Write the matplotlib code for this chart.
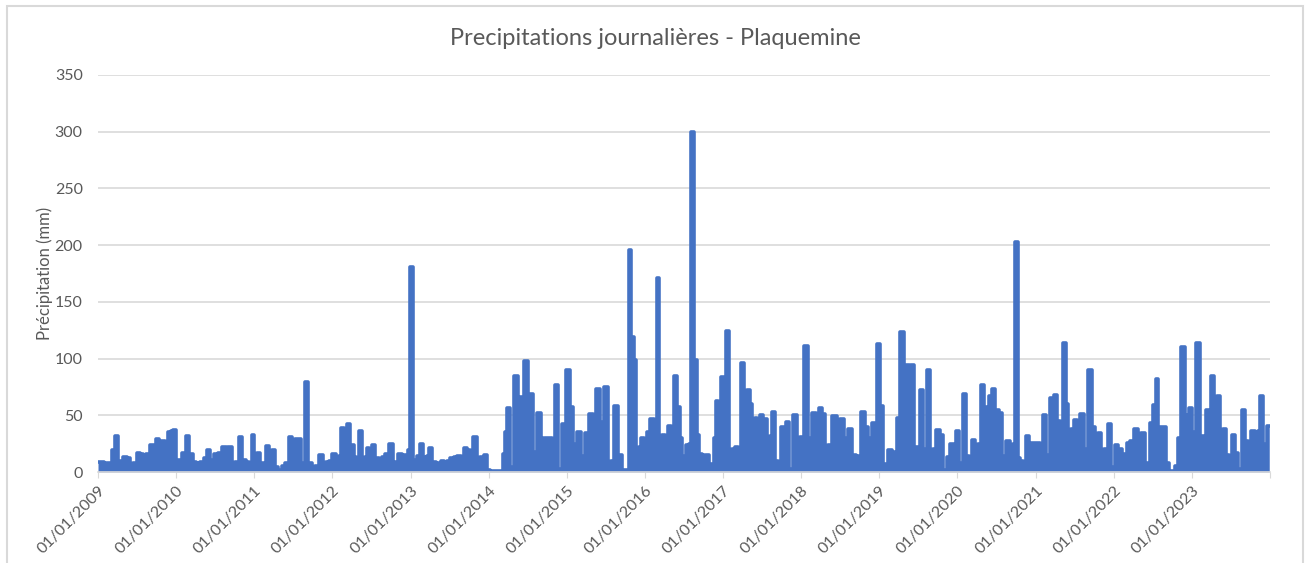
import numpy as np
import matplotlib.pyplot as plt
from matplotlib.patches import Rectangle

# Dates (annee decimale) et precipitations journalieres (mm)
t_2009_2013 = [
    2009.00, 2009.05, 2009.11, 2009.15, 2009.20, 2009.23, 2009.27, 2009.30, 2009.35, 2009.38,
    2009.43, 2009.47, 2009.52, 2009.56, 2009.60, 2009.64, 2009.68, 2009.72, 2009.76, 2009.80,
    2009.84, 2009.87, 2009.91, 2009.95, 2009.98, 2010.02, 2010.06, 2010.10, 2010.15, 2010.19,
    2010.23, 2010.28, 2010.33, 2010.38, 2010.41, 2010.46, 2010.51, 2010.56, 2010.62, 2010.65,
    2010.69, 2010.73, 2010.78, 2010.83, 2010.86, 2010.92, 2010.95, 2010.98, 2011.02, 2011.05,
    2011.10, 2011.14, 2011.17, 2011.21, 2011.24, 2011.29, 2011.33, 2011.37, 2011.42, 2011.47,
    2011.50, 2011.54, 2011.58, 2011.61, 2011.64, 2011.67, 2011.71, 2011.76, 2011.80, 2011.85,
    2011.90, 2011.93, 2011.98, 2012.02, 2012.06, 2012.10, 2012.13, 2012.16, 2012.21, 2012.25,
    2012.29, 2012.32, 2012.35, 2012.40, 2012.43, 2012.45, 2012.49, 2012.52, 2012.57, 2012.61,
    2012.65, 2012.70, 2012.75, 2012.79, 2012.82, 2012.87, 2012.91, 2012.95, 2012.98, 2013.01,
    2013.06, 2013.10, 2013.14, 2013.19, 2013.22, 2013.26, 2013.30, 2013.34, 2013.38, 2013.41,
    2013.45, 2013.49, 2013.53, 2013.58, 2013.62, 2013.66, 2013.70, 2013.74, 2013.78, 2013.83,
    2013.87, 2013.90, 2013.93, 2013.96, 2013.99, 2014.05, 2014.10, 2014.15,
]
p_2009_2013 = [
    9, 9, 8, 8, 19, 32, 10, 10, 13, 12,
    7, 8, 17, 16, 15, 16, 24, 24, 29, 27,
    27, 21, 35, 36, 37, 11, 11, 17, 32, 16,
    9, 8, 9, 12, 19, 11, 16, 17, 22, 13,
    22, 8, 9, 31, 11, 9, 7, 33, 10, 17,
    8, 7, 23, 8, 19, 4, 2, 5, 8, 31,
    20, 29, 29, 8, 8, 79, 8, 4, 5, 15,
    7, 9, 10, 16, 12, 14, 39, 24, 42, 24,
    13, 8, 36, 8, 13, 21, 7, 24, 12, 11,
    13, 16, 25, 8, 9, 16, 15, 15, 19, 181,
    11, 14, 25, 13, 14, 21, 9, 8, 7, 10,
    9, 10, 12, 13, 14, 12, 21, 19, 8, 31,
    9, 13, 12, 15, 2, 1, 1, 1,
]

t_2014_2018 = [
    2014.17, 2014.19, 2014.22, 2014.25, 2014.29, 2014.35, 2014.39, 2014.42, 2014.48, 2014.52,
    2014.55, 2014.59, 2014.65, 2014.68, 2014.71, 2014.74, 2014.79, 2014.83, 2014.87, 2014.91,
    2014.96, 2015.01, 2015.06, 2015.11, 2015.16, 2015.21, 2015.25, 2015.31, 2015.35, 2015.40,
    2015.45, 2015.50, 2015.55, 2015.58, 2015.63, 2015.68, 2015.72, 2015.77, 2015.81, 2015.84,
    2015.87, 2015.91, 2015.94, 2015.97, 2016.01, 2016.05, 2016.09, 2016.13, 2016.17, 2016.20,
    2016.24, 2016.28, 2016.32, 2016.35, 2016.39, 2016.43, 2016.46, 2016.50, 2016.54, 2016.58,
    2016.60, 2016.65, 2016.67, 2016.71, 2016.75, 2016.77, 2016.80, 2016.84, 2016.88, 2016.90,
    2016.92, 2016.96, 2016.99, 2017.02, 2017.05, 2017.09, 2017.13, 2017.17, 2017.21, 2017.25,
    2017.29, 2017.32, 2017.36, 2017.39, 2017.42, 2017.45, 2017.49, 2017.54, 2017.58, 2017.61,
    2017.65, 2017.69, 2017.72, 2017.77, 2017.83, 2017.87, 2017.92, 2017.96, 2018.01, 2018.07,
    2018.11, 2018.16, 2018.21, 2018.25, 2018.28, 2018.32, 2018.37, 2018.43, 2018.48, 2018.52,
    2018.58, 2018.63, 2018.67, 2018.73, 2018.79, 2018.84, 2018.88, 2018.94, 2018.99,
]
p_2014_2018 = [
    1, 16, 35, 56, 4, 85, 58, 66, 98, 69,
    69, 18, 52, 30, 12, 30, 30, 4, 77, 3,
    42, 90, 57, 25, 35, 14, 34, 51, 14, 73,
    44, 75, 8, 10, 58, 15, 2, 2, 196, 119,
    99, 8, 22, 30, 25, 35, 47, 18, 171, 20,
    33, 30, 41, 30, 85, 57, 30, 14, 24, 25,
    300, 99, 33, 16, 15, 3, 15, 7, 7, 30,
    63, 7, 84, 84, 124, 7, 20, 22, 20, 96,
    14, 72, 60, 38, 48, 30, 50, 47, 20, 32,
    53, 10, 2, 40, 44, 3, 50, 15, 31, 111,
    30, 52, 30, 56, 51, 7, 24, 49, 14, 47,
    30, 38, 15, 14, 53, 40, 30, 43, 113,
]

t_2019_2023 = [
    2019.02, 2019.07, 2019.14, 2019.18, 2019.22, 2019.24, 2019.29, 2019.33, 2019.36, 2019.39,
    2019.43, 2019.46, 2019.50, 2019.53, 2019.58, 2019.63, 2019.67, 2019.70, 2019.75, 2019.80,
    2019.84, 2019.88, 2019.93, 2019.97, 2020.00, 2020.05, 2020.09, 2020.13, 2020.16, 2020.20,
    2020.25, 2020.28, 2020.32, 2020.36, 2020.39, 2020.42, 2020.47, 2020.50, 2020.56, 2020.59,
    2020.65, 2020.69, 2020.72, 2020.76, 2020.79, 2020.82, 2020.86, 2020.90, 2020.93, 2020.96,
    2021.00, 2021.03, 2021.07, 2021.11, 2021.16, 2021.22, 2021.26, 2021.30, 2021.33, 2021.37,
    2021.40, 2021.44, 2021.47, 2021.52, 2021.55, 2021.59, 2021.65, 2021.70, 2021.74, 2021.78,
    2021.82, 2021.86, 2021.90, 2021.95, 2021.99, 2022.03, 2022.08, 2022.14, 2022.19, 2022.23,
    2022.28, 2022.33, 2022.38, 2022.43, 2022.49, 2022.52, 2022.55, 2022.59, 2022.64, 2022.69,
    2022.73, 2022.77, 2022.81, 2022.84, 2022.89, 2022.93, 2022.95, 2022.98, 2023.03, 2023.08,
    2023.13, 2023.17, 2023.20, 2023.23, 2023.26, 2023.30, 2023.34, 2023.38, 2023.42, 2023.46,
    2023.49, 2023.53, 2023.57, 2023.62, 2023.67, 2023.70, 2023.73, 2023.78, 2023.83, 2023.86,
    2023.89, 2023.94, 2023.99,
]
p_2019_2023 = [
    58, 7, 19, 18, 5, 48, 123, 94, 94, 22,
    94, 22, 22, 72, 20, 90, 17, 20, 37, 33,
    2, 13, 25, 16, 36, 8, 69, 14, 8, 28,
    7, 25, 77, 57, 7, 67, 73, 55, 52, 14,
    27, 10, 25, 203, 12, 10, 3, 32, 15, 26,
    26, 26, 15, 50, 15, 65, 68, 45, 28, 114,
    60, 35, 38, 46, 30, 51, 20, 90, 40, 4,
    34, 4, 20, 42, 4, 24, 20, 16, 26, 27,
    38, 25, 34, 8, 43, 59, 82, 40, 40, 8,
    1, 1, 5, 30, 110, 40, 50, 56, 35, 114,
    32, 3, 55, 40, 85, 40, 67, 4, 38, 15,
    8, 33, 17, 3, 55, 27, 3, 36, 3, 36,
    67, 25, 41,
]

years = list(range(2009, 2025))
year_labels = ["01/01/%d" % y for y in range(2009, 2024)] + [""]

t = np.array(t_2009_2013 + t_2014_2018 + t_2019_2023)
p = np.array(p_2009_2013 + p_2014_2018 + p_2019_2023)

blue = "#4472C4"
grey_txt = "#595959"
grid_c = "#D9D9D9"

plt.rcParams["font.family"] = ["Lato", "DejaVu Sans"]

fig = plt.figure(figsize=(13.05, 5.63), dpi=100)
ax = fig.add_axes([0.0751, 0.1616, 0.8981, 0.7052])

ax.fill_between(t, p, step="mid", color=blue, linewidth=0)
ax.plot(t, p, drawstyle="steps-mid", color=blue, linewidth=2.6, solid_joinstyle="round")

ax.set_xlim(2009, 2024)
ax.set_ylim(0, 350)
ax.set_yticks(range(0, 351, 50))
ax.set_xticks(years)
ax.set_xticklabels(year_labels, rotation=45, ha="right", rotation_mode="anchor")
ax.tick_params(axis="x", colors=grid_c, labelcolor=grey_txt, length=4, labelsize=11.5, pad=4)
ax.tick_params(axis="y", length=0, labelcolor=grey_txt, labelsize=11.5, pad=11)
ax.grid(axis="y", color=grid_c, linewidth=1.2)
ax.set_axisbelow(True)
for s in ["top", "right", "left"]:
    ax.spines[s].set_visible(False)
ax.spines["bottom"].set_color(grid_c)
ax.spines["bottom"].set_linewidth(1.2)

ax.set_ylabel("Précipitation (mm)", color=grey_txt, fontsize=12, labelpad=1)

fig.text(0.502, 0.932, "Precipitations journalières - Plaquemine", ha="center", va="center",
         fontsize=17, color=grey_txt)

# Cadre de la zone de graphique
fig.patches.append(Rectangle((0.0054, -0.05), 0.9931, 1.0393, transform=fig.transFigure,
                             fill=False, edgecolor=grid_c, linewidth=1.5))

fig.savefig("out.png", dpi=100)
